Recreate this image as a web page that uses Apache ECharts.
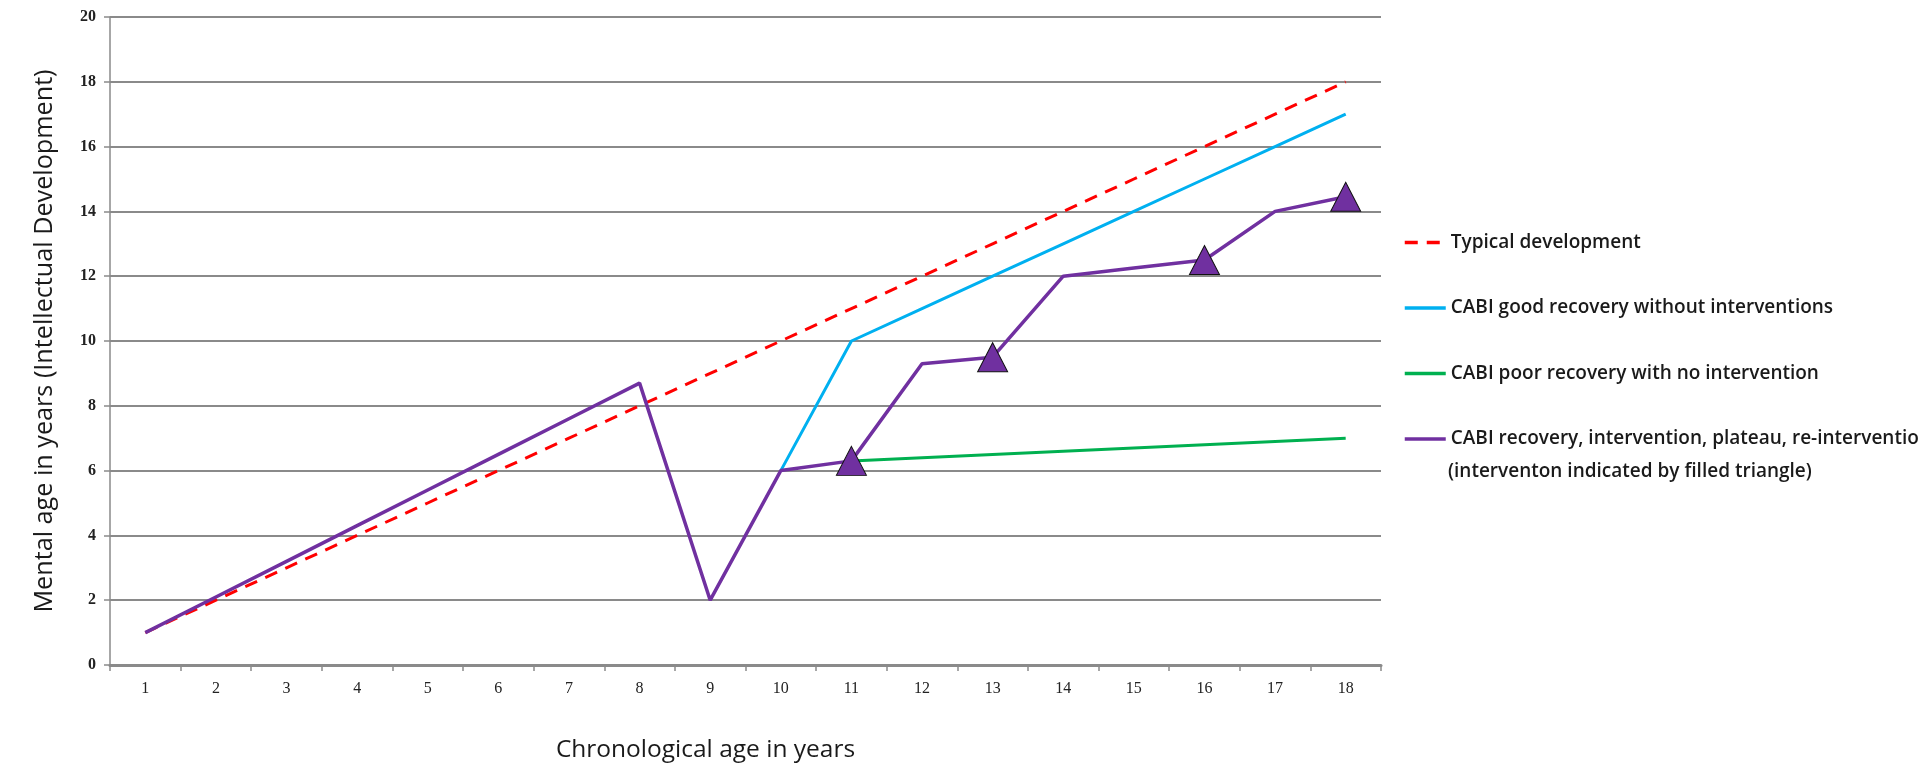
<!DOCTYPE html>
<html>
<head>
<meta charset="utf-8">
<script src="https://cdn.jsdelivr.net/npm/echarts@6/dist/echarts.min.js"></script>
<style>
html,body{margin:0;padding:0;background:#fff;}
#chart{width:1920px;height:764px;}
</style>
</head>
<body>
<div id="chart"></div>
<script>
const categories = ['1','2','3','4','5','6','7','8','9','10','11','12','13','14','15','16','17','18'];
const yTicks = [0, 20, 2]; // min, max, interval
const typical = [1, 2, 3, 4, 5, 6, 7, 8, 9, 10, 11, 12, 13, 14, 15, 16, 17, 18];
const goodRecovery = [null, null, null, null, null, null, null, null, null, 6, 10, 11, 12, 13, 14, 15, 16, 17];
const poorRecovery = [null, null, null, null, null, null, null, null, null, null, 6.3, 6.4, 6.5, 6.6, 6.7, 6.8, 6.9, 7.0];
const reintervention = [1, 2.1, 3.2, 4.3, 5.4, 6.5, 7.6, 8.7, 2, 6, 6.3, 9.3, 9.5, 12, 12.25, 12.5, 14, 14.45];
const interventionAges = ['11', '13', '16', '18'];
const seriesNames = [
  'Typical development',
  'CABI good recovery without interventions',
  'CABI poor recovery with no intervention',
  'CABI recovery, intervention, plateau, re-intervention'
];
const legendNote = '(interventon indicated by filled triangle)';
const xTitle = 'Chronological age in years';
const yTitle = 'Mental age in years (Intellectual Development)';

const chart = echarts.init(document.getElementById('chart'), null, {renderer: 'canvas'});
const gridColor = '#8a8a8a';
const legendFont = {fontFamily: 'Open Sans', fontSize: 19, fontWeight: 600, color: '#1a1a1a'};

const purpleData = reintervention.map((v, i) =>
  interventionAges.includes(categories[i])
    ? {value: v, symbol: 'triangle', symbolSize: [30, 29], itemStyle: {color: '#7030A0', borderColor: '#111', borderWidth: 1}}
    : v);

chart.setOption({
  animation: false,
  backgroundColor: '#fff',
  grid: {left: 110, right: 539, top: 17, bottom: 99, containLabel: false, outerBoundsMode: 'none'},
  legend: {
    orient: 'vertical',
    left: 1403,
    top: 233,
    padding: 0,
    itemWidth: 41,
    itemHeight: 14,
    itemGap: 46.5,
    textStyle: legendFont,
    itemStyle: {opacity: 0},
    lineStyle: {width: 3.5},
    data: seriesNames,
    selectedMode: false
  },
  graphic: [{
    type: 'text',
    left: 1448,
    top: 462,
    style: {text: legendNote, fill: '#1a1a1a', font: '600 19px "Open Sans"'}
  }],
  xAxis: {
    type: 'category',
    data: categories,
    boundaryGap: true,
    name: xTitle,
    nameLocation: 'middle',
    nameGap: 73,
    nameTextStyle: {fontFamily: 'Open Sans', fontSize: 24.5, color: '#1a1a1a', padding: [0, 80, 0, 0]},
    axisLine: {lineStyle: {color: gridColor, width: 3}},
    axisTick: {show: true, alignWithLabel: false, length: 6, lineStyle: {color: gridColor, width: 1.5}},
    axisLabel: {fontFamily: 'Liberation Serif', fontSize: 16, color: '#222', margin: 16},
    splitLine: {show: false}
  },
  yAxis: {
    type: 'value',
    min: yTicks[0],
    max: yTicks[1],
    interval: yTicks[2],
    name: yTitle,
    nameLocation: 'middle',
    nameRotate: 90,
    nameGap: 53,
    nameTextStyle: {fontFamily: 'Open Sans', fontSize: 25.2, color: '#1a1a1a'},
    axisLine: {show: true, lineStyle: {color: gridColor, width: 1.5}},
    axisTick: {show: true, length: 6, lineStyle: {color: gridColor, width: 1.5}},
    axisLabel: {fontFamily: 'Liberation Serif', fontSize: 16, fontWeight: 'bold', color: '#222', margin: 14},
    splitLine: {show: true, lineStyle: {color: gridColor, width: 2}}
  },
  series: [
    {
      name: seriesNames[0], type: 'line', data: typical, symbol: 'none',
      lineStyle: {color: '#FF0000', width: 3, type: [13, 9]}, itemStyle: {color: '#FF0000'}, z: 2
    },
    {
      name: seriesNames[1], type: 'line', data: goodRecovery, symbol: 'none',
      lineStyle: {color: '#00B0F0', width: 3}, itemStyle: {color: '#00B0F0'}, z: 3
    },
    {
      name: seriesNames[2], type: 'line', data: poorRecovery, symbol: 'none',
      lineStyle: {color: '#00B050', width: 3}, itemStyle: {color: '#00B050'}, z: 4
    },
    {
      name: seriesNames[3], type: 'line', data: purpleData, symbol: 'none', showSymbol: true,
      lineStyle: {color: '#7030A0', width: 3.5}, itemStyle: {color: '#7030A0'}, z: 5
    }
  ]
});
</script>
</body>
</html>
